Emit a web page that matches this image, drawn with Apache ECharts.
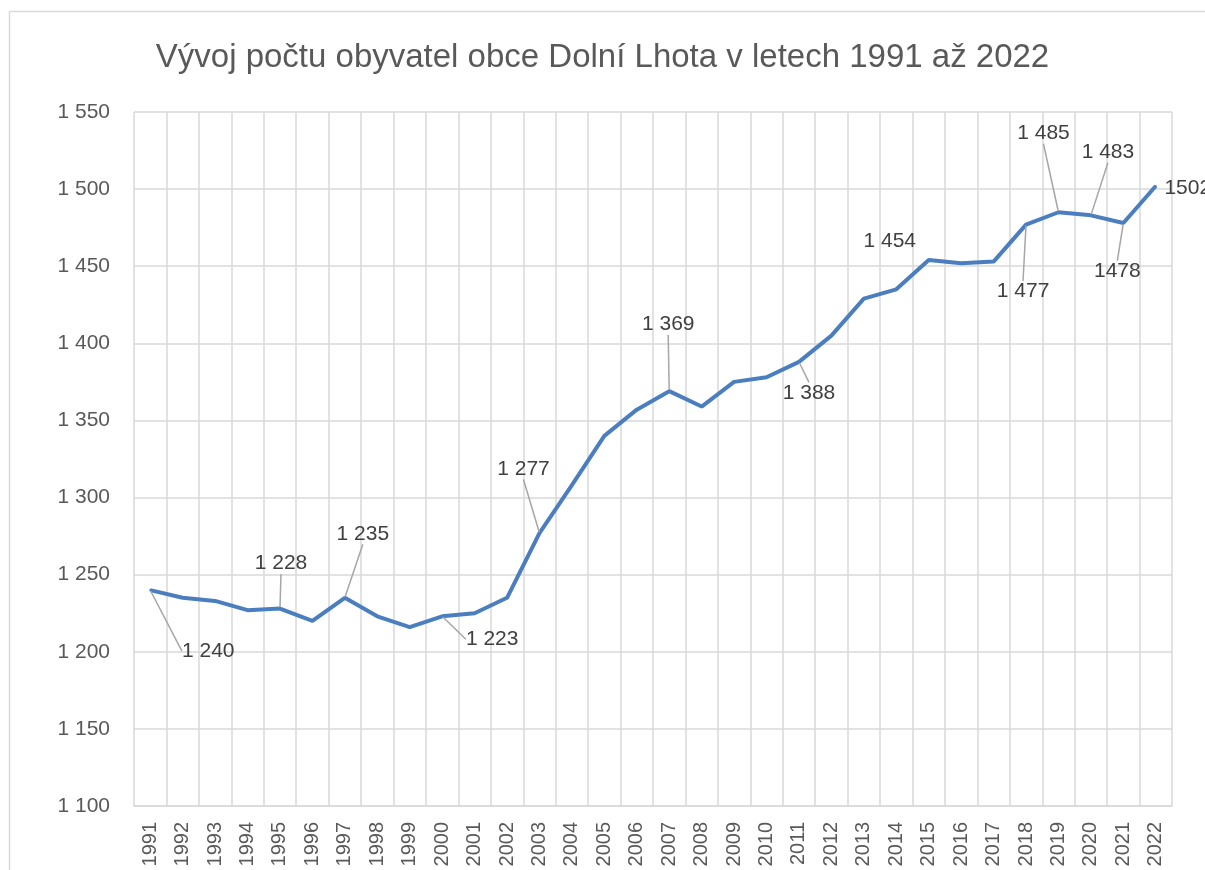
<!DOCTYPE html>
<html>
<head>
<meta charset="utf-8">
<script src="https://cdn.jsdelivr.net/npm/echarts@6/dist/echarts.min.js"></script>
<style>
  html, body { margin: 0; padding: 0; background: #fff; }
  #chart { width: 1205px; height: 870px; }
</style>
</head>
<body>
<div id="chart"></div>
<script>
// data
const years = ['1991', '1992', '1993', '1994', '1995', '1996', '1997', '1998', '1999', '2000',
  '2001', '2002', '2003', '2004', '2005', '2006', '2007', '2008', '2009', '2010',
  '2011', '2012', '2013', '2014', '2015', '2016', '2017', '2018', '2019', '2020',
  '2021', '2022']
const population = [1240, 1235, 1233, 1227, 1228, 1220, 1235, 1223, 1216, 1223,
  1225, 1235, 1277, 1308, 1340, 1357, 1369, 1359, 1375, 1378,
  1388, 1405, 1429, 1435, 1454, 1452, 1453, 1477, 1485, 1483,
  1478, 1502]
// data labels shown in the original (empty = no label)
const labelTexts = ['1 240', '', '', '', '1 228', '', '1 235', '', '', '1 223',
  '', '', '1 277', '', '', '', '1 369', '', '', '',
  '1 388', '', '', '', '1 454', '', '', '1 477', '1 485', '1 483',
  '1478', '1502']
const yTicks = { min: 1100, max: 1550, step: 50 }

// where each label was dragged to (pixel shift from its point)
const labelShift = {
  0: [58, 61], 4: [1, -45], 6: [18, -64], 9: [50, 23], 12: [-16, -64],
  16: [-1, -67], 20: [10, 31], 24: [-39, -19], 27: [-3, 67], 28: [-15, -79],
  29: [17, -63], 30: [-6, 48], 31: [32, 2]
}

const gray = '#d9d9d9'
const textColor = '#595959'
const font = 'Liberation Sans'

const chart = echarts.init(document.getElementById('chart'))

chart.setOption({
  animation: false,
  textStyle: { fontFamily: font },
  title: {
    text: 'Vývoj počtu obyvatel obce Dolní Lhota v letech 1991 až 2022',
    left: 'center',
    top: 36,
    textStyle: { fontFamily: font, fontSize: 33, fontWeight: 'normal', color: textColor }
  },
  graphic: [{
    type: 'rect',
    silent: true,
    shape: { x: 9.5, y: 11.5, width: 1400, height: 1000 },
    style: { fill: 'none', stroke: gray, lineWidth: 1.5 }
  }],
  grid: { left: 134, right: 33, top: 112, bottom: 64 },
  xAxis: {
    type: 'category',
    data: years,
    axisLine: { lineStyle: { color: gray, width: 1.5 } },
    axisTick: { show: false },
    splitLine: { show: true, lineStyle: { color: gray, width: 1.5 } },
    axisLabel: {
      interval: 0,
      rotate: 90,
      margin: 16,
      fontSize: 20,
      color: textColor,
      fontFamily: font
    }
  },
  yAxis: {
    type: 'value',
    min: yTicks.min,
    max: yTicks.max,
    interval: yTicks.step,
    axisLine: { show: false },
    axisTick: { show: false },
    splitLine: { lineStyle: { color: gray, width: 1.5 } },
    axisLabel: {
      margin: 24,
      fontSize: 21,
      color: textColor,
      fontFamily: font,
      formatter: v => String(v).replace(/\B(?=(\d{3})+(?!\d))/g, ' ')
    }
  },
  series: [{
    type: 'line',
    data: population.map((v, i) => ({
      value: v,
      label: { show: labelTexts[i] !== '' },
      labelLine: { show: labelTexts[i] !== '' && i !== 24 && i !== 31 }
    })),
    symbol: 'circle',
    symbolSize: 2,
    showSymbol: true,
    itemStyle: { color: '#4a7ebf' },
    lineStyle: { color: '#4a7ebf', width: 4 },
    label: {
      position: 'inside',
      fontSize: 21,
      color: '#404040',
      fontFamily: font,
      formatter: p => labelTexts[p.dataIndex]
    },
    labelLine: {
      lineStyle: { color: '#a6a6a6', width: 1.5 }
    },
    labelLayout: p => {
      const s = labelShift[p.dataIndex]
      return s ? { dx: s[0], dy: s[1] } : {}
    }
  }]
})
</script>
</body>
</html>
